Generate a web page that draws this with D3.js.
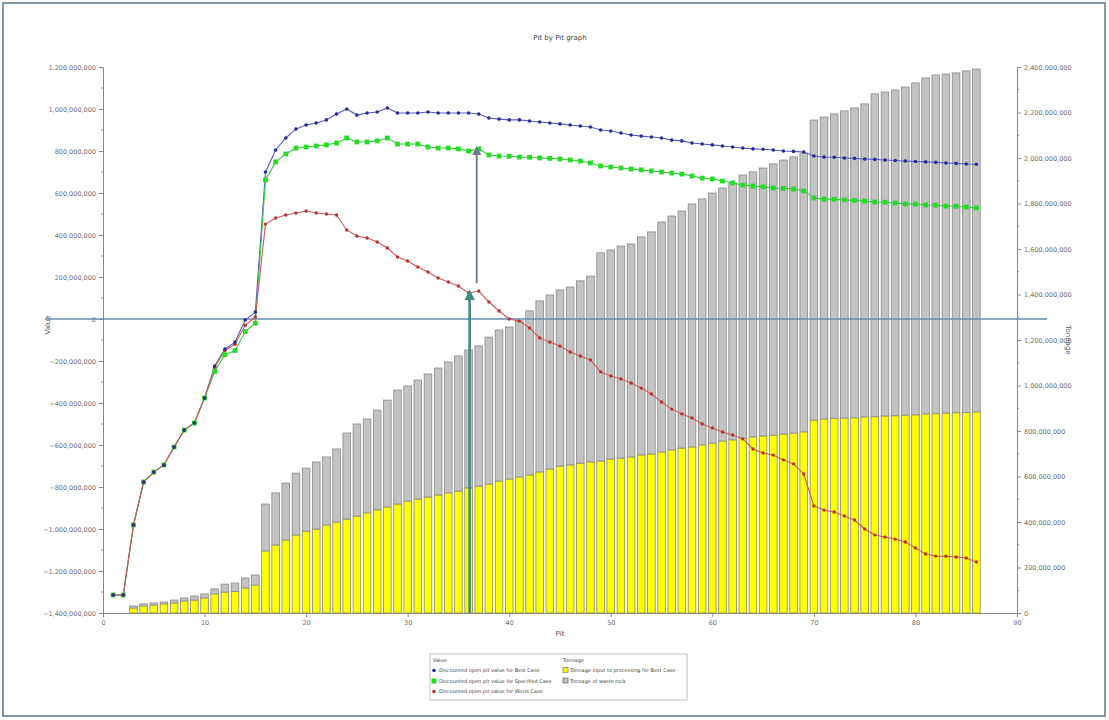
<!DOCTYPE html>
<html>
<head>
<meta charset="utf-8">
<script src="https://cdn.jsdelivr.net/npm/d3@7"></script>
<style>
  html, body { margin: 0; padding: 0; background: #fff; }
  svg { display: block; font-family: "DejaVu Sans", Arial, sans-serif; }
</style>
</head>
<body>
<svg id="chart" width="1109" height="720"></svg>
<script>
// ---------- DATA (values in millions) ----------
const pits = [1,2,3,4,5,6,7,8,9,10,11,12,13,14,15,16,17,18,19,20,21,22,23,24,25,26,27,28,29,30,
  31,32,33,34,35,36,37,38,39,40,41,42,43,44,45,46,47,48,49,50,51,52,53,54,55,56,57,58,59,60,
  61,62,63,64,65,66,67,68,69,70,71,72,73,74,75,76,77,78,79,80,81,82,83,84,85,86];

const valueBest = [-1314,-1314,-981,-776,-729,-695,-610,-529,-495,-376,-224,-143,-110,-5,33,
  700,805,862,905,924,933,948,976,1000,971,981,986,1005,981,981,
  981,986,981,981,981,981,976,957,952,948,948,943,938,933,929,
  924,919,914,900,895,886,876,871,867,862,852,848,838,833,829,
  824,819,814,810,808,805,800,798,795,776,771,770,767,765,762,
  760,757,755,752,750,748,746,743,741,738,737];

const valueSpecified = [-1314,-1314,-981,-776,-729,-695,-610,-529,-495,-376,-250,-170,-150,-60,-20,
  662,748,786,814,819,824,829,838,862,843,843,848,862,833,833,
  833,819,814,814,810,800,810,781,776,775,771,770,767,765,762,
  757,752,743,729,724,719,714,710,705,700,695,690,681,671,667,
  657,648,638,633,629,624,622,619,610,576,571,570,567,565,562,
  557,556,552,548,547,543,542,538,537,533,529];

const valueWorst = [-1314,-1314,-981,-776,-729,-695,-610,-529,-495,-376,-230,-150,-120,-30,10,
  452,481,495,505,514,505,500,495,424,395,386,367,338,295,276,
  248,224,195,176,157,124,133,81,38,0,-10,-43,-90,-110,-129,
  -157,-176,-195,-252,-271,-286,-305,-329,-357,-395,-429,-452,-471,-500,-519,
  -538,-552,-571,-619,-638,-648,-671,-690,-738,-890,-910,-919,-938,-957,-1000,
  -1029,-1038,-1048,-1062,-1090,-1119,-1129,-1130,-1133,-1138,-1157];

const barPits = [3,4,5,6,7,8,9,10,11,12,13,14,15,16,17,18,19,20,21,22,23,24,25,26,27,28,29,30,
  31,32,33,34,35,36,37,38,39,40,41,42,43,44,45,46,47,48,49,50,51,52,53,54,55,56,57,58,59,60,
  61,62,63,64,65,66,67,68,69,70,71,72,73,74,75,76,77,78,79,80,81,82,83,84,85,86];

const tonnageProcessing = [22,31,35,40,44,53,57,66,84,92,95,110,123,
  273,299,321,343,360,369,387,400,413,426,440,453,466,479,492,
  501,510,519,528,536,550,558,567,580,589,598,607,620,633,646,
  651,659,664,668,677,681,686,695,699,708,717,725,730,739,747,
  756,761,769,774,778,782,787,791,796,848,853,855,857,858,862,
  863,866,867,870,871,875,876,879,880,881,884];

const tonnageWaste = [9,9,9,8,13,13,18,18,22,35,37,44,44,
  206,229,250,272,277,295,299,321,378,405,413,439,470,501,506,
  523,541,558,575,594,606,616,646,664,668,686,721,752,765,774,
  782,801,817,915,919,932,936,958,976,1011,1028,1042,1068,1081,1099,
  1112,1129,1156,1165,1178,1192,1204,1214,1226,1319,1327,1339,1350,1362,1376,
  1419,1424,1432,1442,1459,1477,1489,1490,1494,1502,1507];

const xTicks = [0,10,20,30,40,50,60,70,80,90];
const leftTicks = [-1400,-1200,-1000,-800,-600,-400,-200,0,200,400,600,800,1000,1200];
const rightTicks = [0,200,400,600,800,1000,1200,1400,1600,1800,2000,2200,2400];

// annotation arrows (pit, from value, to value) on the value axis
const arrows = [
  {pit: 36.1, from: -1400, to: 130},
  {pit: 36.8, from: 170, to: 815}
];

const title = "Pit by Pit graph";
const xLabel = "Pit";
const leftLabel = "Value";
const rightLabel = "Tonnage";
const legendValue = ["Discounted open pit value for Best Case",
  "Discounted open pit value for Specified Case",
  "Discounted open pit value for Worst Case"];
const legendTonnage = ["Tonnage input to processing for Best Case", "Tonnage of waste rock"];

// ---------- DRAW ----------
const svg = d3.select("#chart");
const x = d3.scaleLinear().domain([0, 90]).range([103, 1017]);
const yL = d3.scaleLinear().domain([-1400, 1200]).range([613, 67]);
const yR = d3.scaleLinear().domain([0, 2400]).range([613, 67]);
const fmt = v => d3.format(",")(v * 1e6);

// outer frame
svg.append("rect").attr("x", 3).attr("y", 3).attr("width", 1102).attr("height", 713)
  .attr("fill", "none").attr("stroke", "#5c7482").attr("stroke-width", 1.5);

// title
svg.append("text").attr("x", 560).attr("y", 40).attr("text-anchor", "middle")
  .attr("font-size", 7).attr("fill", "#444").text(title);

// bars
const bw = 7.6;
const bars = svg.append("g");
barPits.forEach((p, i) => {
  const yTop = tonnageProcessing[i];
  bars.append("rect")
    .attr("x", x(p) - bw / 2).attr("width", bw)
    .attr("y", yR(yTop)).attr("height", yR(0) - yR(yTop))
    .attr("fill", "#ffff00").attr("stroke", "#8c8c5a").attr("stroke-width", 0.8);
  const tot = yTop + tonnageWaste[i];
  bars.append("rect")
    .attr("x", x(p) - bw / 2).attr("width", bw)
    .attr("y", yR(tot)).attr("height", yR(yTop) - yR(tot))
    .attr("fill", "#c3c3c3").attr("stroke", "#8a8a8a").attr("stroke-width", 0.8);
});

// axes
const xAxis = d3.axisBottom(x).tickValues(xTicks).tickSize(4).tickFormat(d3.format("d"));
const gx = svg.append("g").attr("transform", "translate(0,613)").call(xAxis);
const lAxis = d3.axisLeft(yL).tickValues(leftTicks).tickSize(4).tickFormat(fmt);
const gl = svg.append("g").attr("transform", "translate(103,0)").call(lAxis);
const rAxis = d3.axisRight(yR).tickValues(rightTicks).tickSize(4).tickFormat(fmt);
const gr = svg.append("g").attr("transform", "translate(1017,0)").call(rAxis);
[gx, gl, gr].forEach(g => {
  g.selectAll("text").attr("font-size", 6.5).attr("fill", "#6e6e6e").attr("font-family", "DejaVu Sans, sans-serif");
  g.selectAll("line").attr("stroke", "#888");
  g.select(".domain").attr("stroke", "#888");
});
// minor ticks
const minorL = leftTicks.slice(0, -1).map(d => d + 100);
gl.selectAll(".minor").data(minorL).enter().append("line").attr("class", "minor")
  .attr("x1", -2).attr("x2", 0).attr("y1", d => yL(d)).attr("y2", d => yL(d)).attr("stroke", "#888");
const minorR = rightTicks.slice(0, -1).map(d => d + 100);
gr.selectAll(".minor").data(minorR).enter().append("line").attr("class", "minor")
  .attr("x1", 0).attr("x2", 2).attr("y1", d => yR(d)).attr("y2", d => yR(d)).attr("stroke", "#888");

// axis labels
svg.append("text").attr("x", 560).attr("y", 636).attr("text-anchor", "middle")
  .attr("font-size", 7).attr("fill", "#555").text(xLabel);
svg.append("text").attr("transform", "translate(50,325) rotate(-90)").attr("text-anchor", "middle")
  .attr("font-size", 7).attr("fill", "#555").text(leftLabel);
svg.append("text").attr("transform", "translate(1066,340) rotate(90)").attr("text-anchor", "middle")
  .attr("font-size", 7).attr("fill", "#555").text(rightLabel);

// zero line
svg.append("line").attr("x1", 45).attr("x2", 1047).attr("y1", yL(0)).attr("y2", yL(0))
  .attr("stroke", "#6a8db0").attr("stroke-width", 1.6);

// lines
const line = d3.line().x((d, i) => x(pits[i])).y(d => yL(d));
const series = {
  best: {vals: valueBest, color: "#5a5ad0", mcolor: "#2a2a90", shape: "circle", r: 1.8},
  spec: {vals: valueSpecified, color: "#2ecc40", mcolor: "#22dd22", shape: "square", r: 2.4},
  worst: {vals: valueWorst, color: "#d05a5a", mcolor: "#b83030", shape: "circle", r: 1.7}
};
["best", "spec", "worst"].forEach(k => {
  const s = series[k];
  svg.append("path").datum(s.vals).attr("d", line)
    .attr("fill", "none").attr("stroke", s.color).attr("stroke-width", 1.1);
});
["spec", "worst", "best"].forEach(k => {
  const s = series[k];
  const g = svg.append("g");
  s.vals.forEach((v, i) => {
    if (s.shape === "square") {
      g.append("rect").attr("x", x(pits[i]) - s.r).attr("y", yL(v) - s.r)
        .attr("width", 2 * s.r).attr("height", 2 * s.r).attr("fill", s.mcolor);
    } else {
      g.append("circle").attr("cx", x(pits[i])).attr("cy", yL(v)).attr("r", s.r).attr("fill", s.mcolor);
    }
  });
});

// arrows
const defs = svg.append("defs");
defs.append("marker").attr("id", "ah1").attr("viewBox", "0 0 10 10").attr("refX", 8).attr("refY", 5)
  .attr("markerWidth", 4).attr("markerHeight", 4).attr("orient", "auto")
  .append("path").attr("d", "M0,0 L10,5 L0,10 z").attr("fill", "#3f8a7e");
defs.append("marker").attr("id", "ah2").attr("viewBox", "0 0 10 10").attr("refX", 8).attr("refY", 5)
  .attr("markerWidth", 5).attr("markerHeight", 5).attr("orient", "auto")
  .append("path").attr("d", "M0,0 L10,5 L0,10 z").attr("fill", "#5f7f8a");
svg.append("line").attr("x1", x(arrows[0].pit)).attr("x2", x(arrows[0].pit))
  .attr("y1", yL(arrows[0].from)).attr("y2", yL(arrows[0].to))
  .attr("stroke", "#3f8a7e").attr("stroke-width", 2.6).attr("marker-end", "url(#ah1)");
svg.append("line").attr("x1", x(arrows[1].pit)).attr("x2", x(arrows[1].pit))
  .attr("y1", yL(arrows[1].from)).attr("y2", yL(arrows[1].to))
  .attr("stroke", "#5f7f8a").attr("stroke-width", 1.8).attr("marker-end", "url(#ah2)");

// legend
const lg = svg.append("g").attr("font-size", 5).attr("fill", "#444");
lg.append("rect").attr("x", 430).attr("y", 654).attr("width", 257).attr("height", 46)
  .attr("fill", "#fff").attr("stroke", "#b0b0b0").attr("stroke-width", 0.8);
lg.append("text").attr("x", 433).attr("y", 662).text("Value");
lg.append("text").attr("x", 563).attr("y", 662).text("Tonnage");
const mcol = ["#2a2a90", "#22dd22", "#b83030"];
legendValue.forEach((t, i) => {
  const yy = 672 + i * 10.5;
  if (i === 1) lg.append("rect").attr("x", 431.5).attr("y", yy - 4).attr("width", 5).attr("height", 5).attr("fill", mcol[i]);
  else lg.append("circle").attr("cx", 434).attr("cy", yy - 1.5).attr("r", 1.8).attr("fill", mcol[i]);
  lg.append("text").attr("x", 439).attr("y", yy).text(t);
});
const bcol = [["#ffff00", "#8c8c5a"], ["#c3c3c3", "#777"]];
legendTonnage.forEach((t, i) => {
  const yy = 672 + i * 10.5;
  lg.append("rect").attr("x", 563).attr("y", yy - 4.5).attr("width", 5).attr("height", 5)
    .attr("fill", bcol[i][0]).attr("stroke", bcol[i][1]).attr("stroke-width", 0.8);
  lg.append("text").attr("x", 570).attr("y", yy).text(t);
});
</script>
</body>
</html>
